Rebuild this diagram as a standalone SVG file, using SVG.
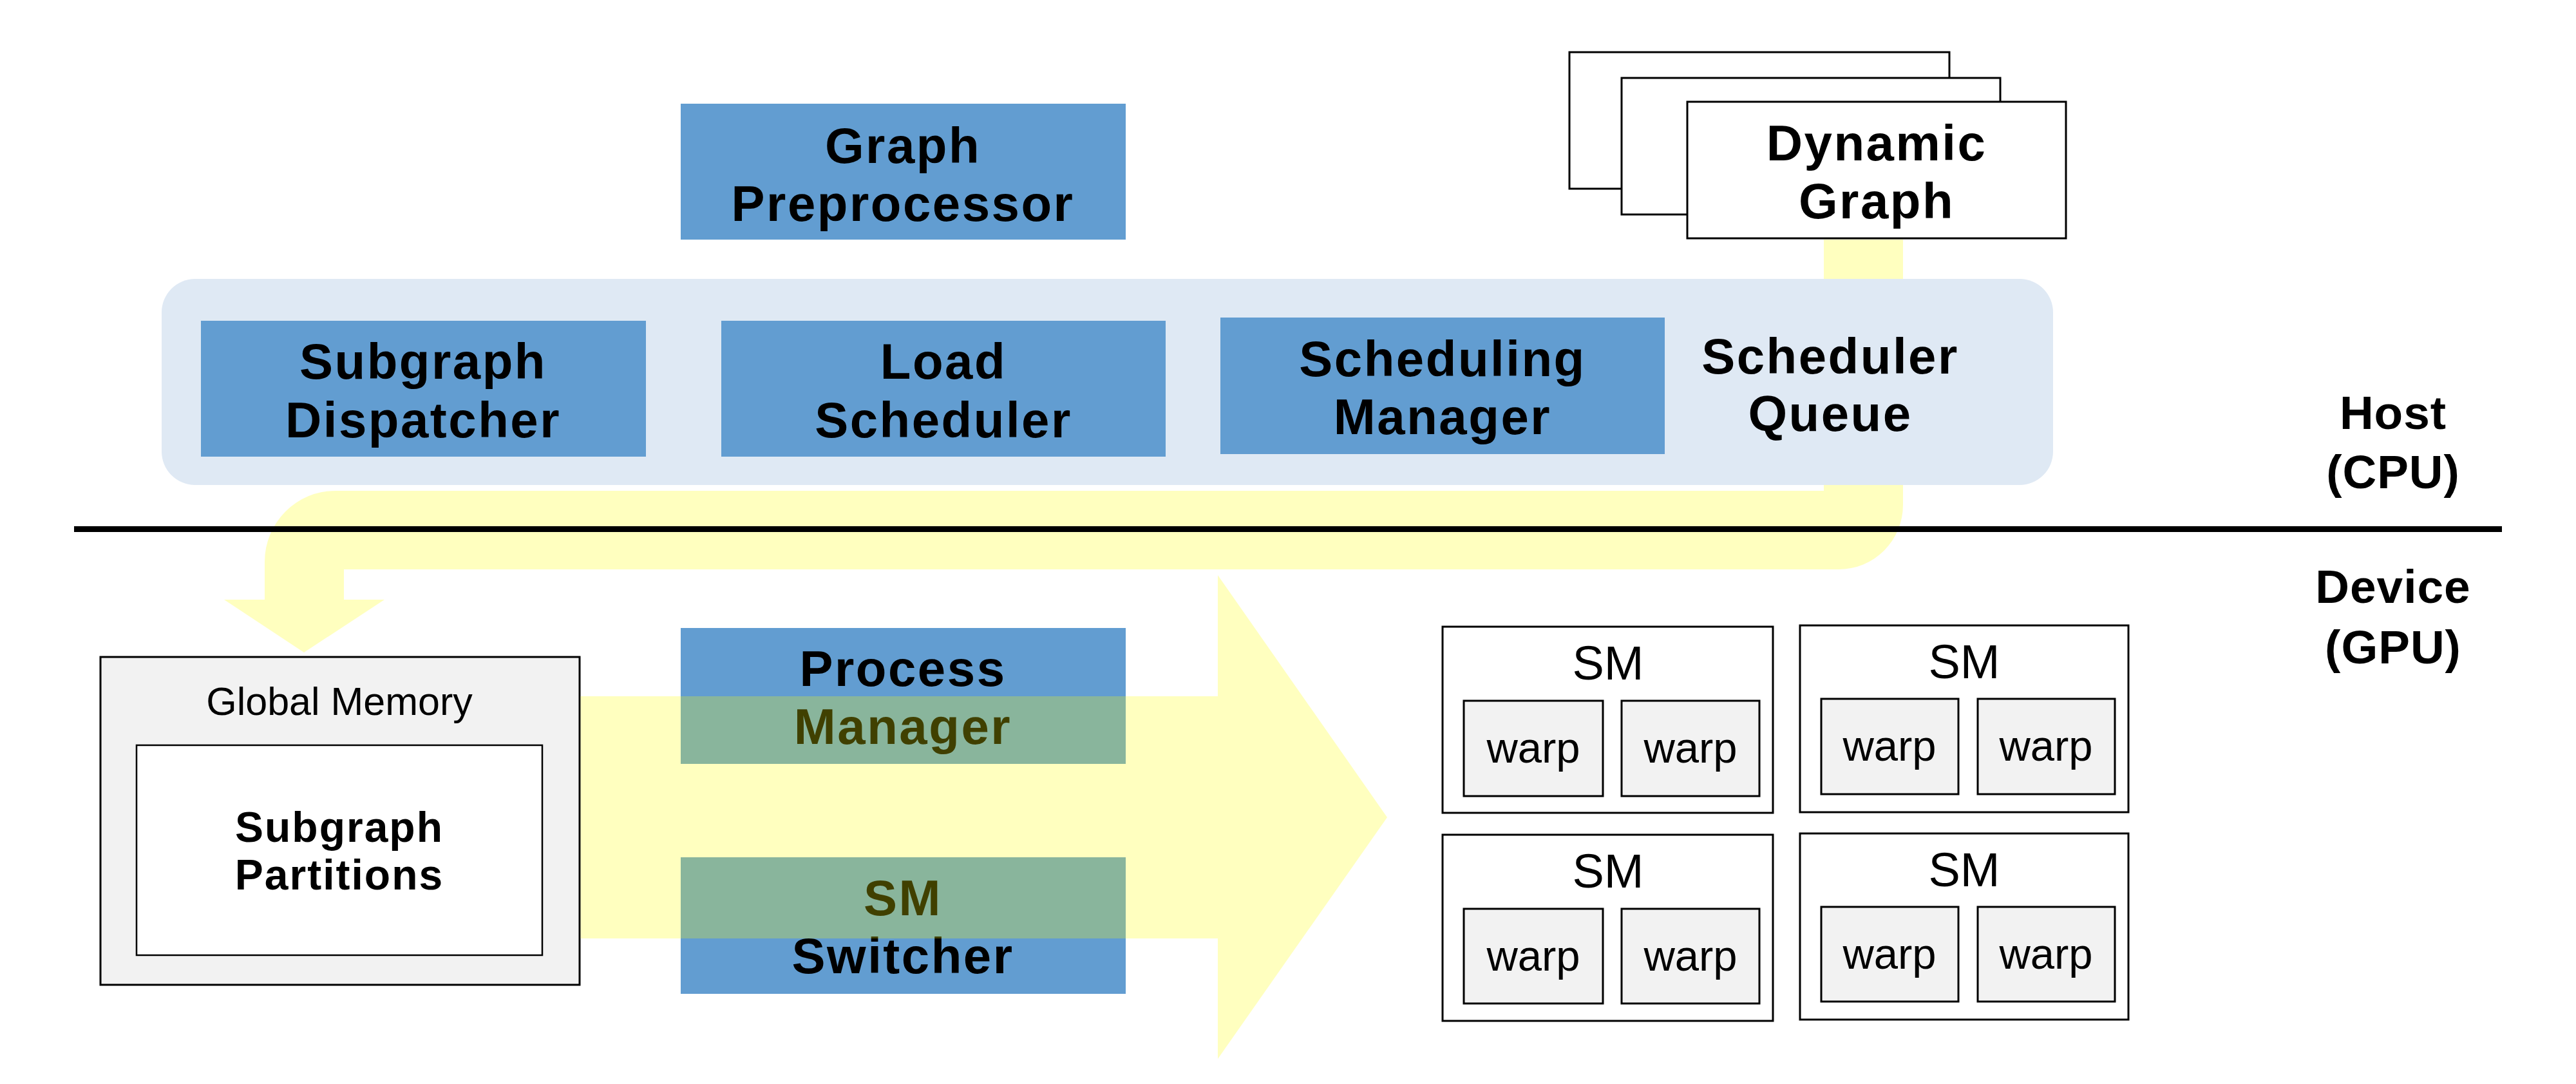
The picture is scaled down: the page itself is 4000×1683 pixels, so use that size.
<svg xmlns="http://www.w3.org/2000/svg" width="4000" height="1683" viewBox="0 0 4000 1683">
<style>
.blue{fill:#629dd1}
.b{font-family:"Liberation Sans",Arial,sans-serif;font-weight:bold;font-size:78px;text-anchor:middle;letter-spacing:2.5px;fill:#000}
.r{font-family:"Liberation Sans",Arial,sans-serif;font-size:74px;text-anchor:middle;fill:#000}
.w{font-size:67px}
.gm{font-size:61px}
.sp{font-size:66px;letter-spacing:2px}
.side{font-size:73px;letter-spacing:1px}
.box{fill:#fff;stroke:#000;stroke-width:3}
.warp{fill:#f2f2f2;stroke:#000;stroke-width:3}
.flow{fill:#ffff00;fill-opacity:0.25}
</style>
<rect width="4000" height="1683" fill="#fff"/>

<g id="host-container"><rect x="251" y="433" width="2937" height="320" rx="52" ry="52" fill="#dfe9f4"/></g>

<g id="graph-preprocessor">
<rect class="blue" x="1057" y="161" width="691" height="211"/>
<text class="b" x="1402" y="253">Graph</text>
<text class="b" x="1402" y="343">Preprocessor</text>
</g>

<g id="subgraph-dispatcher">
<rect class="blue" x="312" y="498" width="691" height="211"/>
<text class="b" x="657" y="588">Subgraph</text>
<text class="b" x="657" y="679">Dispatcher</text>
</g>

<g id="load-scheduler">
<rect class="blue" x="1120" y="498" width="690" height="211"/>
<text class="b" x="1465" y="588">Load</text>
<text class="b" x="1465" y="679">Scheduler</text>
</g>

<g id="scheduling-manager">
<rect class="blue" x="1895" y="493" width="690" height="212"/>
<text class="b" x="2240" y="584">Scheduling</text>
<text class="b" x="2240" y="674">Manager</text>
</g>

<g id="scheduler-queue">
<text class="b" x="2842" y="580">Scheduler</text>
<text class="b" x="2842" y="669">Queue</text>
</g>

<g id="dynamic-graph">
<rect class="box" x="2437" y="81" width="590" height="212"/>
<rect class="box" x="2518" y="121" width="588" height="212"/>
<rect class="box" x="2620" y="158" width="588" height="212"/>
<text class="b" x="2914" y="249">Dynamic</text>
<text class="b" x="2914" y="339">Graph</text>
</g>

<g id="host-label">
<text class="b side" x="3716" y="666">Host</text>
<text class="b side" x="3716" y="758">(CPU)</text>
</g>

<g id="device-label">
<text class="b side" x="3716" y="936">Device</text>
<text class="b side" x="3716" y="1030">(GPU)</text>
</g>

<g id="global-memory">
<rect x="156" y="1020" width="744" height="509" fill="#f2f2f2" stroke="#000" stroke-width="3"/>
<text class="r gm" x="527" y="1110">Global Memory</text>
<rect x="212" y="1157" width="630" height="326" fill="#fff" stroke="#000" stroke-width="2.5"/>
<text class="b sp" x="527" y="1307">Subgraph</text>
<text class="b sp" x="527" y="1381">Partitions</text>
</g>

<g id="process-manager">
<rect class="blue" x="1057" y="975" width="691" height="211"/>
<text class="b" x="1402" y="1065">Process</text>
<text class="b" x="1402" y="1155">Manager</text>
</g>

<g id="sm-switcher">
<rect class="blue" x="1057" y="1331" width="691" height="212"/>
<text class="b" x="1402" y="1421">SM</text>
<text class="b" x="1402" y="1511">Switcher</text>
</g>

<g id="sm-1">
<rect class="box" x="2240" y="973" width="513" height="289"/>
<text class="r" x="2497" y="1055">SM</text>
<rect class="warp" x="2273" y="1088" width="216" height="148"/>
<text class="r w" x="2381" y="1184">warp</text>
<rect class="warp" x="2518" y="1088" width="214" height="148"/>
<text class="r w" x="2625" y="1184">warp</text>
</g>

<g id="sm-2">
<rect class="box" x="2795" y="971" width="510" height="290"/>
<text class="r" x="3050" y="1053">SM</text>
<rect class="warp" x="2828" y="1085" width="213" height="148"/>
<text class="r w" x="2934" y="1181">warp</text>
<rect class="warp" x="3071" y="1085" width="213" height="148"/>
<text class="r w" x="3177" y="1181">warp</text>
</g>

<g id="sm-3">
<rect class="box" x="2240" y="1296" width="513" height="289"/>
<text class="r" x="2497" y="1378">SM</text>
<rect class="warp" x="2273" y="1411" width="216" height="147"/>
<text class="r w" x="2381" y="1507">warp</text>
<rect class="warp" x="2518" y="1411" width="214" height="147"/>
<text class="r w" x="2625" y="1507">warp</text>
</g>

<g id="sm-4">
<rect class="box" x="2795" y="1294" width="510" height="289"/>
<text class="r" x="3050" y="1376">SM</text>
<rect class="warp" x="2828" y="1408" width="213" height="147"/>
<text class="r w" x="2934" y="1504">warp</text>
<rect class="warp" x="3071" y="1408" width="213" height="147"/>
<text class="r w" x="3177" y="1504">warp</text>
</g>

<g id="connectors">
<path class="flow" d="M2832 372 H2955 V433 H2832 Z"/>
<path class="flow" d="M2832 753 H2955 V784 A100 100 0 0 1 2855 884 H534 V931 H597 L472 1013 L348 931 H411 V872 A110 110 0 0 1 521 762 H2832 Z"/>
<path class="flow" d="M901.5 1081 H1891 V893 L2154 1269 L1891 1644 V1457 H901.5 Z"/>
</g>

<rect id="host-device-divider" x="115" y="817" width="3770" height="9" fill="#000"/>
</svg>
